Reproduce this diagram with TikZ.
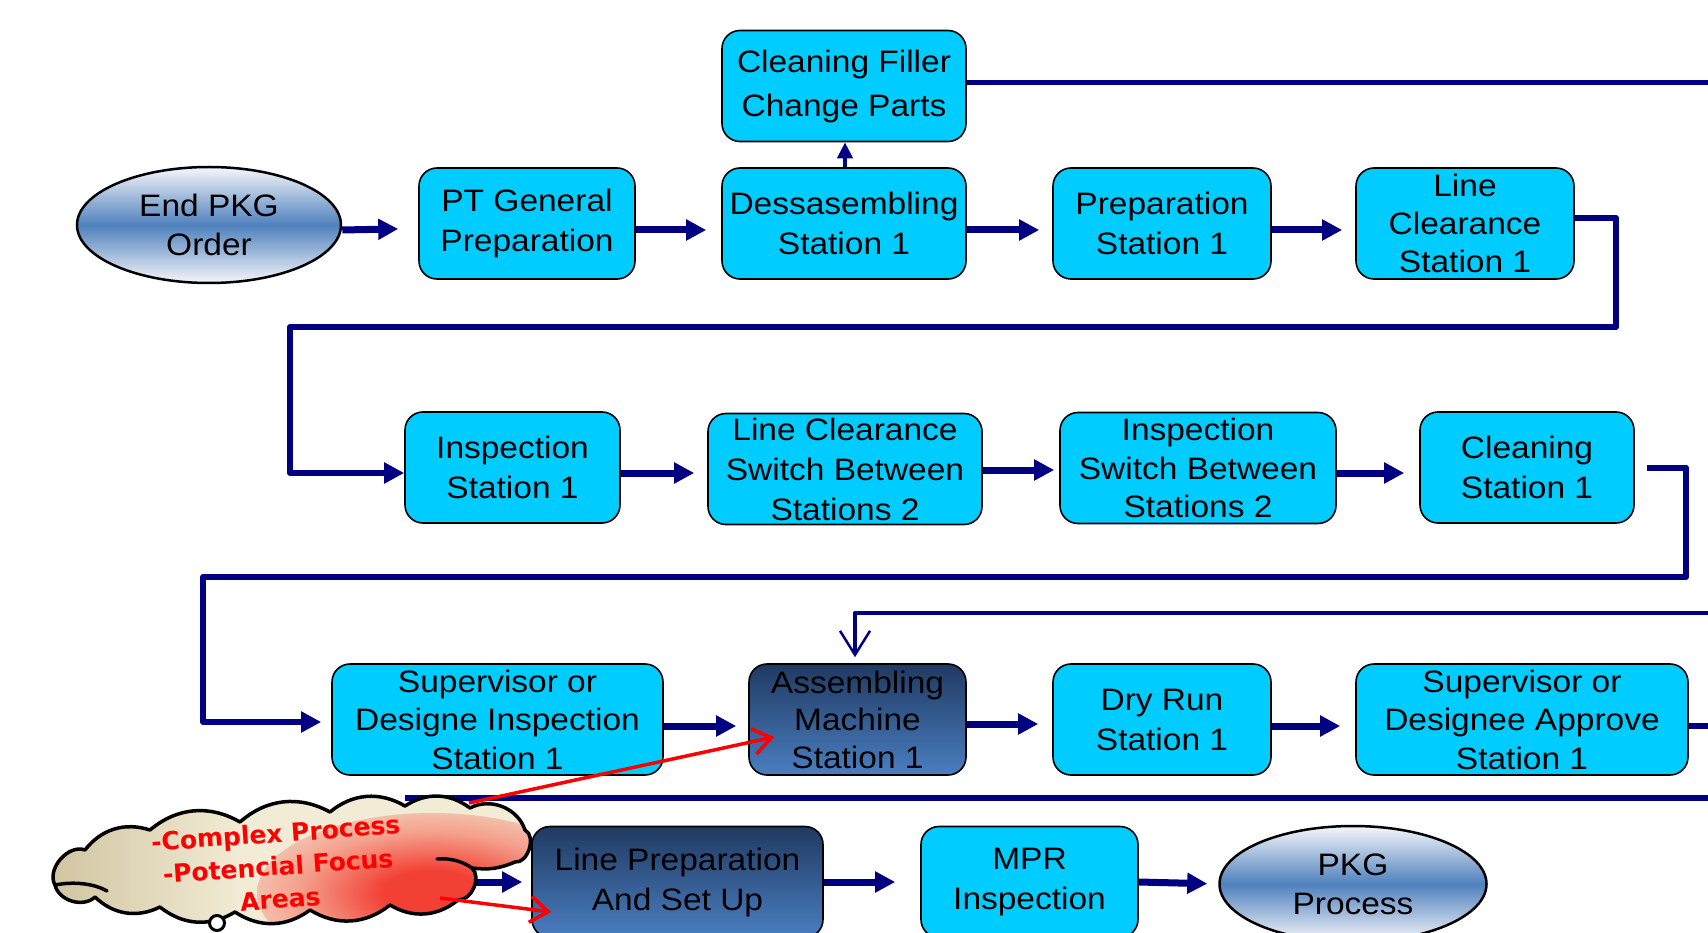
\documentclass[tikz,border=0pt]{standalone}
\usepackage{fontspec}
\setmainfont{Liberation Sans}[FakeStretch=1.08]
\newfontfamily\calloutfont{DejaVu Sans}
\usetikzlibrary{shapes.geometric,arrows.meta,calc}

\definecolor{boxcyan}{RGB}{0,204,255}
\definecolor{flownavy}{RGB}{0,0,128}
\definecolor{darktop}{RGB}{32,58,98}
\definecolor{darkbot}{RGB}{74,126,192}
\definecolor{ovalmid}{RGB}{79,129,189}
\definecolor{ovaledge}{RGB}{246,246,250}
\definecolor{cloudtan}{RGB}{196,182,140}
\definecolor{cloudcream}{RGB}{242,236,214}
\definecolor{cloudpink}{RGB}{244,160,140}
\definecolor{cloudred}{RGB}{242,64,52}
\definecolor{alertred}{RGB}{255,0,0}

\pgfdeclarehorizontalshading{cloudbase}{100bp}{color(0bp)=(cloudtan); color(18bp)=(cloudtan); color(45bp)=(cloudcream); color(100bp)=(cloudcream)}
% the radial shading is enlarged to reach the corners of the box, so the
% glow has to be back to cream at about 35bp
\pgfdeclareradialshading{redglow}{\pgfpoint{0bp}{0bp}}{color(0bp)=(cloudred); color(7bp)=(cloudred); color(19bp)=(cloudpink); color(34bp)=(cloudcream); color(50bp)=(cloudcream)}

% outline of the callout cloud, one puff after another
\newcommand\cloudoutline{(55,885) to[bend left=70] (85,850) to[bump] (150,830) to[bump] (240,822)
  to[bump] (330,812) to[bump] (405,806) to[bump] (470,808) to[bend left=50] (525,830)
  to[bend left=80] (515,862) to[bend left=15] (472,868) to[bend left=70] (458,900)
  to[bump] (390,905) to[bump] (310,910) to[bump] (235,912) to[bump] (160,907)
  to[bump] (95,897) to[bend left=60] (55,885) -- cycle}

\begin{document}
\begin{tikzpicture}[x=1pt,y=-1pt,
  every node/.style={inner sep=0pt},
  boxbase/.style={rectangle, rounded corners=18pt, draw=black, line width=1.6pt,
    minimum height=111pt, align=center, text=black},
  stepbox/.style={boxbase, fill=boxcyan, font=\fontsize{31}{40}\selectfont},
  stepboxiii/.style={boxbase, fill=boxcyan, font=\fontsize{31}{38.5}\selectfont},
  darkbox/.style={boxbase, top color=darktop, bottom color=darkbot},
  oval/.style={ellipse, draw=black, line width=2.5pt, top color=ovaledge,
    bottom color=ovaledge, middle color=ovalmid, minimum width=264pt,
    minimum height=116pt, align=center, font=\fontsize{31}{39}\selectfont},
  flow/.style={draw=flownavy, line width=7pt, -{Triangle[length=20pt,width=20pt]},
    shorten >=13pt},
  upflow/.style={draw=flownavy, line width=4pt, -{Triangle[length=16pt,width=15pt]}},
  route/.style={draw=flownavy, line width=6pt, line join=round},
  feed/.style={draw=flownavy, line width=4.5pt, line join=round},
  alert/.style={draw=alertred, line width=3.5pt,
    -{Straight Barb[length=18pt,width=26pt,line width=3.5pt]}},
  puff/.style={draw=black, line width=3.5pt, line cap=round},
  bump/.style={bend left=35}
]
\useasboundingbox (0,0) rectangle (1708,933);
\clip (0,0) rectangle (1708,933);

% ---- first row ----
\node[oval] (endpkg) at (209,225) {End PKG\\Order};
\node[stepbox, minimum width=216pt] (ptgen) at (527,223.5) {PT General\\Preparation};
\node[stepbox, minimum width=244pt] (dess) at (844,223.5) {Dessasembling\\Station 1};
\node[stepbox, minimum width=244pt, font=\fontsize{31}{44}\selectfont] (cfill) at (844,86) {Cleaning Filler\\Change Parts};
\node[stepbox, minimum width=218pt] (prep) at (1162,223.5) {Preparation\\Station 1};
\node[stepboxiii, minimum width=218pt, font=\fontsize{31}{38}\selectfont] (lcl1) at (1465,223.5) {Line\\Clearance\\Station 1};

% ---- second row ----
\node[stepbox, minimum width=215pt] (insp1) at (512.5,467.5) {Inspection\\Station 1};
\node[stepboxiii, minimum width=274pt, font=\fontsize{31}{40}\selectfont] (lc2) at (845,469) {Line Clearance\\Switch Between\\Stations 2};
\node[stepboxiii, minimum width=276pt] (insp2) at (1198,468) {Inspection\\Switch Between\\Stations 2};
\node[stepbox, minimum width=214pt] (clean1) at (1527,467.5) {Cleaning\\Station 1};

% ---- third row ----
\node[stepboxiii, minimum width=331pt] (sup) at (497.5,719.5) {Supervisor or\\Designe Inspection\\Station 1};
\node[darkbox, minimum width=217pt, font=\fontsize{31}{37.5}\selectfont] (asm) at (857.5,719.5) {Assembling\\Machine\\Station 1};
\node[stepbox, minimum width=218pt] (dry) at (1162,719.5) {Dry Run\\Station 1};
\node[stepboxiii, minimum width=332pt] (supapp) at (1522,719.5) {Supervisor or\\Designee Approve\\Station 1};

% ---- fourth row ----
\node[darkbox, minimum width=291pt, font=\fontsize{31}{40}\selectfont] (lprep) at (677.5,882) {Line Preparation\\And Set Up};
\node[stepbox, minimum width=217pt] (mpr) at (1029.5,882) {MPR\\Inspection};
\node[oval, minimum width=267pt] (pkg) at (1353,884) {PKG\\Process};

% ---- straight flow arrows ----
\draw[flow, shorten >=20pt] ([yshift=-5pt]endpkg.east) -- ([yshift=-5pt]ptgen.west);
\draw[flow, shorten >=15pt] ([yshift=-6.5pt]ptgen.east) -- ([yshift=-6.5pt]dess.west);
\draw[flow] ([yshift=-6.5pt]dess.east) -- ([yshift=-6.5pt]prep.west);
\draw[flow] ([yshift=-6.5pt]prep.east) -- ([yshift=-6.5pt]lcl1.west);
\draw[upflow] ([xshift=1pt]dess.north) -- ([xshift=1pt]cfill.south);

\draw[flow] ([yshift=-5.5pt]insp1.east) -- ([yshift=-4pt]lc2.west);
\draw[flow, shorten >=5pt] ([yshift=-1pt]lc2.east) -- ([yshift=-2pt]insp2.west);
\draw[flow, shorten >=15pt] ([yshift=-5pt]insp2.east) -- ([yshift=-5.5pt]clean1.west);

\draw[flow, shorten >=12pt] ([yshift=-6.5pt]sup.east) -- ([yshift=-6.5pt]asm.west);
\draw[flow, shorten >=14pt] ([yshift=-4.5pt]asm.east) -- ([yshift=-4.5pt]dry.west);
\draw[flow, shorten >=15pt] ([yshift=-6.5pt]dry.east) -- ([yshift=-6.5pt]supapp.west);

\draw[flow, shorten >=25pt] (lprep.east) -- (mpr.west);
\draw[flow, shorten >=11pt] (mpr.east) -- (pkg.west);

% ---- routed connectors between rows ----
\coordinate (turnA) at (1616,327);
\coordinate (turnB) at (290,327);
\draw[route, -{Triangle[length=20pt,width=20pt]}]
  ([yshift=5.5pt]lcl1.east) -| (turnA) -- (turnB) |- ([yshift=-5.5pt]insp1.west);

\coordinate (turnC) at (1686,577);
\coordinate (turnD) at (203,577);
\draw[route, -{Triangle[length=20pt,width=20pt]}, shorten >=10pt]
  ([xshift=12pt]clean1.east) -| (turnC) -- (turnD) |- ([yshift=-2.5pt]sup.west);

% ---- lines leaving the page ----
\coordinate (edgeTop) at (1720,83);
\draw[feed, line width=5pt] ([yshift=3pt]cfill.east) -- (edgeTop);

\coordinate (edgeBack) at (1720,613);
\draw[feed, -{Straight Barb[length=24pt,width=30pt,line width=2.5pt]}, shorten >=6pt]
  (edgeBack) -| ([xshift=-2.5pt]asm.north);

\coordinate (edgeOut) at (1720,726);
\draw[route, line width=6pt] ([yshift=-6.5pt]supapp.east) -- (edgeOut);

\coordinate (edgeLow) at (1720,798);
\coordinate (lowEnd) at (405,798);
\draw[route] (edgeLow) -- (lowEnd);

\coordinate (feedIn) at (430,882);
\draw[flow, shorten >=9pt] (feedIn) -- (lprep.west);

% ---- callout cloud ----
\begin{scope}
  \clip \cloudoutline;
  \shade[shading=cloudbase] (45,790) rectangle (540,935);
  \shade[shading=redglow] (432,893) ellipse [x radius=175, y radius=80];
\end{scope}
\draw[draw=black, line width=3.5pt, line join=round] \cloudoutline;
\draw[puff] (55,885) .. controls (75,881) and (95,884) .. (107,891);
\draw[puff] (472,868) .. controls (462,861) and (450,858) .. (437,859);
\node[circle, draw=black, line width=3pt, fill=white, minimum size=15pt] (bubble) at (217,923) {};

\node[rotate=4, text=alertred, align=center,
  font=\calloutfont\bfseries\fontsize{25}{33}\selectfont] (cloudlbl) at (278,866)
  {-Complex Process\\-Potencial Focus\\Areas};

\coordinate (cloudTop) at (469,803);
\coordinate (cloudLow) at (440,898);
\draw[alert] (cloudTop) -- ([xshift=26pt,yshift=-17.5pt]asm.west);
\draw[alert] (cloudLow) -- ([xshift=20pt,yshift=-30pt]lprep.west);
\end{tikzpicture}
\end{document}
